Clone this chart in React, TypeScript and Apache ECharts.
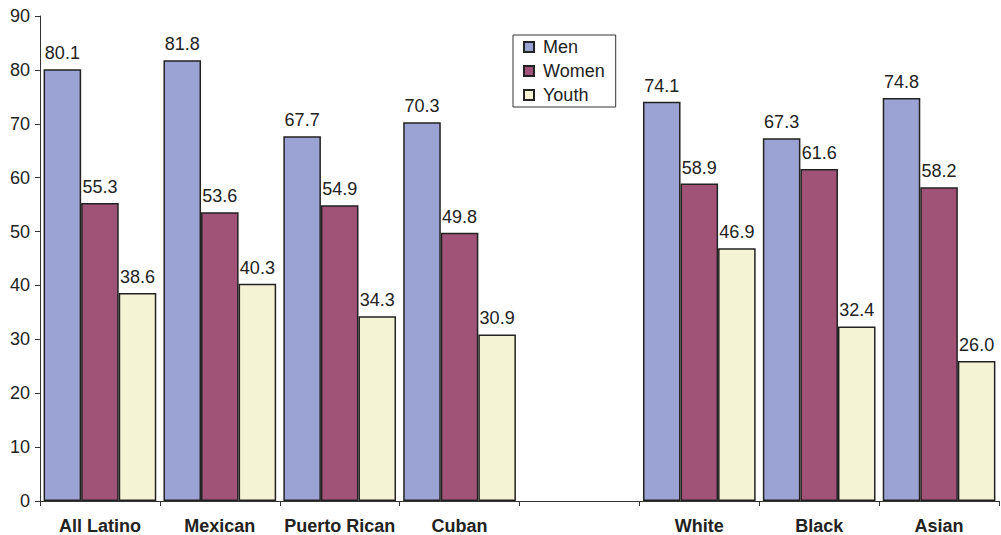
import React, { useEffect, useRef } from "react";
import * as echarts from "echarts";

const categories = ["All Latino", "Mexican", "Puerto Rican", "Cuban", "", "White", "Black", "Asian"];
const men = [80.1, 81.8, 67.7, 70.3, null, 74.1, 67.3, 74.8];
const women = [55.3, 53.6, 54.9, 49.8, null, 58.9, 61.6, 58.2];
const youth = [38.6, 40.3, 34.3, 30.9, null, 46.9, 32.4, 26.0];
const yTicks = { min: 0, max: 90, interval: 10 };

export default function App() {
  const ref = useRef<HTMLDivElement>(null);
  useEffect(() => {
    if (!ref.current) return;
    const chart = echarts.init(ref.current, undefined, { renderer: "svg" });
    const font = "Liberation Sans, Arial, sans-serif";
    const mk = (name: string, data: (number | null)[], color: string) => ({
      name,
      type: "bar",
      data,
      barGap: "0%",
      barCategoryGap: "6%",
      itemStyle: { color, borderColor: "#222", borderWidth: 1.5 },
      label: {
        show: true,
        position: "top",
        distance: 7,
        color: "#222",
        fontSize: 18,
        fontFamily: font,
        formatter: (p: any) => (p.value == null ? "" : Number(p.value).toFixed(1)),
      },
    });
    chart.setOption({
      animation: false,
      backgroundColor: "#fff",
      grid: { left: 40, right: 2, top: 16, bottom: 34 },
      legend: {
        orient: "vertical",
        left: 513,
        top: 35,
        icon: "rect",
        itemWidth: 10,
        itemHeight: 10,
        itemGap: 6,
        padding: [3, 11, 3, 10],
        borderColor: "#333",
        borderWidth: 1,
        backgroundColor: "#fff",
        textStyle: { fontSize: 18, color: "#222", fontFamily: font, padding: [0, 0, 0, 4] },
        data: ["Men", "Women", "Youth"],
      },
      xAxis: {
        type: "category",
        data: categories,
        axisLine: { lineStyle: { color: "#333", width: 1 } },
        axisTick: { show: true, length: 5, alignWithLabel: false, lineStyle: { color: "#333" } },
        axisLabel: { fontSize: 18, fontWeight: "bold", color: "#222", fontFamily: font, margin: 16, interval: 0 },
      },
      yAxis: {
        type: "value",
        min: yTicks.min,
        max: yTicks.max,
        interval: yTicks.interval,
        axisLine: { show: true, lineStyle: { color: "#333", width: 1 } },
        axisTick: { show: true, length: 5, lineStyle: { color: "#333" } },
        splitLine: { show: false },
        axisLabel: { fontSize: 18, color: "#222", fontFamily: font, margin: 10 },
      },
      series: [
        mk("Men", men, "#9AA3D3"),
        mk("Women", women, "#A05277"),
        mk("Youth", youth, "#F4F3D4"),
      ],
    });
    return () => chart.dispose();
  }, []);
  return <div ref={ref} style={{ width: 1001, height: 535, position: "absolute", left: 0, top: 0 }} />;
}
